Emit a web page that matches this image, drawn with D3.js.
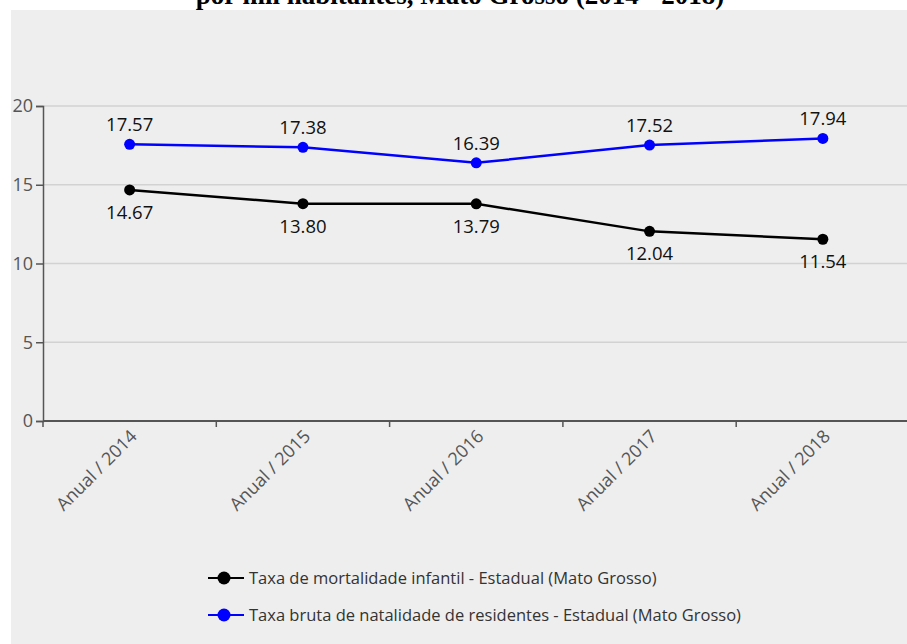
<!DOCTYPE html>
<html>
<head>
<meta charset="utf-8">
<script src="https://cdn.jsdelivr.net/npm/d3@7"></script>
<style>
  html, body { margin: 0; padding: 0; background: #ffffff; }
  svg { display: block; }
</style>
</head>
<body>
<svg id="chart" width="907" height="644"></svg>
<script>
// Categories and series
const categories = ["Anual / 2014", "Anual / 2015", "Anual / 2016", "Anual / 2017", "Anual / 2018"];
const mortalidade = [14.67, 13.80, 13.79, 12.04, 11.54];
const natalidade = [17.57, 17.38, 16.39, 17.52, 17.94];
const yTicks = [0, 5, 10, 15, 20];
const seriesNames = [
  "Taxa de mortalidade infantil - Estadual (Mato Grosso)",
  "Taxa bruta de natalidade de residentes - Estadual (Mato Grosso)"
];
const seriesColors = ["#000000", "#0000ff"];
const titleText = "por mil habitantes, Mato Grosso (2014 - 2018)";

(function () {
const svg = d3.select("#chart");
const W = 907, H = 644;
const uiFont = "'Open Sans', 'Noto Sans', sans-serif";

// Title (its upper part runs off the top of the page)
svg.append("text")
  .attr("x", 460).attr("y", 4)
  .attr("text-anchor", "middle")
  .attr("font-family", "'Liberation Serif', 'Times New Roman', serif")
  .attr("font-weight", "bold")
  .attr("font-size", 27)
  .attr("fill", "#000")
  .text(titleText);

// Gray chart panel
svg.append("rect")
  .attr("x", 11).attr("y", 10)
  .attr("width", W - 11).attr("height", H - 10)
  .attr("fill", "#eeeeee");

const mLeft = 43, mRight = 909.5, mTop = 106, mBottom = 421;

const x = d3.scaleBand().domain(categories).range([mLeft, mRight]).padding(0);
const y = d3.scaleLinear().domain([0, 20]).range([mBottom, mTop]);

// Grid lines
svg.append("g")
  .selectAll("line")
  .data(yTicks.filter(d => d > 0))
  .join("line")
  .attr("x1", mLeft).attr("x2", W)
  .attr("y1", d => y(d)).attr("y2", d => y(d))
  .attr("stroke", "#d2d2d2")
  .attr("stroke-width", 1.5);

// Y axis
const yAxis = svg.append("g")
  .attr("transform", `translate(${mLeft},0)`)
  .call(d3.axisLeft(y).tickValues(yTicks).tickSize(7).tickPadding(3));
yAxis.select(".domain").attr("stroke", "#555").attr("stroke-width", 1.5);
yAxis.selectAll(".tick line").attr("stroke", "#555").attr("stroke-width", 1.5);
yAxis.selectAll(".tick text")
  .attr("font-family", uiFont).attr("font-size", 18).attr("fill", "#555");

// X axis: ticks at band boundaries, labels at band centres
const xAxis = svg.append("g").attr("transform", `translate(0,${mBottom})`);
xAxis.append("line")
  .attr("x1", mLeft).attr("x2", W)
  .attr("stroke", "#555").attr("stroke-width", 2);
xAxis.selectAll(".xt")
  .data(categories)
  .join("line")
  .attr("class", "xt")
  .attr("x1", d => x(d)).attr("x2", d => x(d))
  .attr("y1", 0).attr("y2", 6)
  .attr("stroke", "#555").attr("stroke-width", 1.5);
xAxis.selectAll(".xl")
  .data(categories)
  .join("text")
  .attr("class", "xl")
  .attr("transform", d => `translate(${x(d) + x.bandwidth() / 2 + 4},${12}) rotate(-45)`)
  .attr("text-anchor", "end")
  .attr("dy", "0.35em")
  .attr("font-family", uiFont).attr("font-size", 18).attr("fill", "#555")
  .text(d => d);

// Lines, markers and value labels
const cx = d => x(d) + x.bandwidth() / 2;
const series = [
  { values: mortalidade, color: seriesColors[0], labelDy: 29 },
  { values: natalidade, color: seriesColors[1], labelDy: -13 }
];
const line = d3.line().x(d => cx(d.cat)).y(d => y(d.v));

series.forEach(s => {
  const pts = categories.map((c, i) => ({ cat: c, v: s.values[i] }));
  const g = svg.append("g");
  g.append("path")
    .datum(pts)
    .attr("d", line)
    .attr("fill", "none")
    .attr("stroke", s.color)
    .attr("stroke-width", 2.5);
  g.selectAll("circle")
    .data(pts)
    .join("circle")
    .attr("cx", d => cx(d.cat)).attr("cy", d => y(d.v))
    .attr("r", 5.5)
    .attr("fill", s.color);
  g.selectAll("text")
    .data(pts)
    .join("text")
    .attr("x", d => cx(d.cat)).attr("y", d => y(d.v) + s.labelDy)
    .attr("text-anchor", "middle")
    .attr("font-family", uiFont).attr("font-size", 18.5).attr("fill", "#111")
    .text(d => d.v.toFixed(2));
});

// Legend
const legend = svg.append("g");
seriesNames.forEach((name, i) => {
  const ly = 578 + i * 37;
  legend.append("line")
    .attr("x1", 208).attr("x2", 244)
    .attr("y1", ly).attr("y2", ly)
    .attr("stroke", seriesColors[i]).attr("stroke-width", 2);
  legend.append("circle")
    .attr("cx", 224).attr("cy", ly).attr("r", 6.5)
    .attr("fill", seriesColors[i]);
  legend.append("text")
    .attr("x", 249).attr("y", ly)
    .attr("dy", "0.35em")
    .attr("font-family", uiFont).attr("font-size", 16.5).attr("fill", "#333")
    .text(name);
});
})();
</script>
</body>
</html>
